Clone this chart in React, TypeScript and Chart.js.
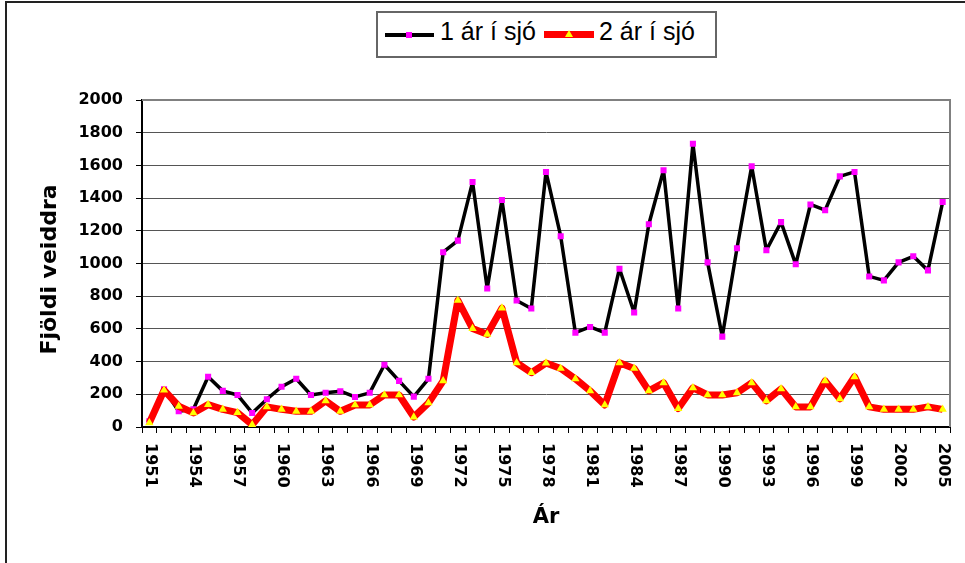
import React, { useEffect, useRef } from 'react';
import { Chart, registerables } from 'chart.js';

Chart.register(...registerables);

const years = [
  '1951', '1952', '1953', '1954', '1955', '1956', '1957', '1958', '1959', '1960',
  '1961', '1962', '1963', '1964', '1965', '1966', '1967', '1968', '1969', '1970',
  '1971', '1972', '1973', '1974', '1975', '1976', '1977', '1978', '1979', '1980',
  '1981', '1982', '1983', '1984', '1985', '1986', '1987', '1988', '1989', '1990',
  '1991', '1992', '1993', '1994', '1995', '1996', '1997', '1998', '1999', '2000',
  '2001', '2002', '2003', '2004', '2005',
];

const oneSeaWinter = [
  35, 231, 96, 108, 307, 221, 196, 86, 170, 246,
  295, 196, 209, 219, 184, 209, 381, 282, 186, 295,
  1069, 1140, 1498, 847, 1388, 774, 725, 1560, 1167, 577,
  612, 577, 968, 700, 1240, 1570, 725, 1732, 1007, 553,
  1093, 1595, 1081, 1253, 995, 1361, 1326, 1533, 1560, 921,
  897, 1007, 1044, 958, 1376,
];

const twoSeaWinter = [
  25, 225, 127, 86, 137, 108, 88, 14, 123, 108,
  96, 96, 160, 96, 135, 135, 196, 196, 61, 147,
  282, 774, 602, 567, 727, 393, 332, 391, 358, 295,
  221, 135, 393, 358, 221, 270, 113, 240, 196, 196,
  209, 270, 160, 233, 123, 123, 282, 172, 307, 123,
  108, 108, 108, 123, 108,
];

const xTickLabels = [
  '1951', '1954', '1957', '1960', '1963', '1966', '1969', '1972', '1975', '1978',
  '1981', '1984', '1987', '1990', '1993', '1996', '1999', '2002', '2005',
];

const seriesNames = ['1 ár í sjó', '2 ár í sjó'];
const xTitle = 'Ár';
const yTitle = 'Fjöldi veiddra';

const FONT = "'DejaVu Sans', sans-serif";

const plotFramePlugin = {
  id: 'plotFrame',
  beforeDatasetsDraw(chart: any) {
    const { ctx, chartArea } = chart;
    ctx.save();
    ctx.strokeStyle = '#808080';
    ctx.lineWidth = 2;
    ctx.beginPath();
    ctx.moveTo(chartArea.left, chartArea.top);
    ctx.lineTo(chartArea.right, chartArea.top);
    ctx.lineTo(chartArea.right, chartArea.bottom);
    ctx.stroke();
    ctx.restore();
  },
};

const customTextPlugin = {
  id: 'customText',
  afterDraw(chart: any) {
    const { ctx, chartArea } = chart;
    const xScale = chart.scales.x;
    ctx.save();
    ctx.fillStyle = '#000';
    ctx.font = `bold 16px ${FONT}`;
    ctx.textAlign = 'left';
    ctx.textBaseline = 'middle';
    xTickLabels.forEach((lab) => {
      const idx = years.indexOf(lab);
      if (idx < 0) return;
      const x = xScale.getPixelForValue(idx);
      ctx.save();
      ctx.translate(x + 1, chartArea.bottom + 16);
      ctx.rotate(Math.PI / 2);
      ctx.fillText(lab, 0, 0);
      ctx.restore();
    });
    // y axis title
    ctx.save();
    ctx.font = `bold 22px ${FONT}`;
    ctx.textAlign = 'center';
    ctx.textBaseline = 'middle';
    ctx.translate(50, (chartArea.top + chartArea.bottom) / 2 + 6);
    ctx.rotate(-Math.PI / 2);
    ctx.fillText(yTitle, 0, 0);
    ctx.restore();
    ctx.restore();
  },
};

export default function App() {
  const canvasRef = useRef<HTMLCanvasElement | null>(null);

  useEffect(() => {
    if (!canvasRef.current) return;
    const chart = new Chart(canvasRef.current, {
      type: 'line',
      data: {
        labels: years,
        datasets: [
          {
            label: seriesNames[0],
            data: oneSeaWinter,
            borderColor: '#000000',
            borderWidth: 3.5,
            borderJoinStyle: 'round',
            pointStyle: 'rect',
            pointRadius: 4.3,
            pointBackgroundColor: '#FF00FF',
            pointBorderColor: '#FF00FF',
            pointBorderWidth: 0,
            tension: 0,
            order: 1,
          },
          {
            label: seriesNames[1],
            data: twoSeaWinter,
            borderColor: '#FF0000',
            borderWidth: 7,
            borderJoinStyle: 'round',
            pointStyle: 'triangle',
            pointRadius: 4.8,
            pointBackgroundColor: '#FFFF00',
            pointBorderColor: '#FFFF00',
            pointBorderWidth: 0,
            tension: 0,
            order: 0,
          },
        ],
      },
      options: {
        responsive: false,
        animation: false,
        devicePixelRatio: 1,
        layout: { padding: { top: 100, right: 15, bottom: 0, left: 0 } },
        plugins: {
          legend: { display: false },
          tooltip: { enabled: false },
        },
        scales: {
          x: {
            type: 'category',
            offset: true,
            afterFit: (s: any) => {
              s.height = 136;
            },
            grid: {
              offset: true,
              drawOnChartArea: false,
              drawTicks: true,
              tickLength: 6,
              tickColor: '#000',
              tickWidth: 1,
            },
            border: { display: true, color: '#000', width: 2 },
            ticks: { display: false, autoSkip: false },
            title: {
              display: true,
              text: xTitle,
              color: '#000',
              font: { family: FONT, size: 21, weight: 'bold' },
              padding: { top: 0, bottom: 33 },
            },
          },
          y: {
            min: 0,
            max: 2000,
            afterFit: (s: any) => {
              s.width = 142;
            },
            grid: {
              color: '#555',
              lineWidth: 1,
              drawTicks: true,
              tickLength: 6,
              tickColor: '#000',
            },
            border: { display: true, color: '#000', width: 2 },
            ticks: {
              stepSize: 200,
              color: '#000',
              padding: 13,
              font: { family: FONT, size: 16, weight: 'bold' },
              callback: (v: any) => String(v),
            },
            title: { display: false },
          },
        },
      },
      plugins: [plotFramePlugin, customTextPlugin],
    } as any);
    return () => chart.destroy();
  }, []);

  const legendText: React.CSSProperties = {
    position: 'absolute',
    top: 19,
    fontFamily: "'Liberation Sans', Arial, sans-serif",
    fontSize: 25,
    lineHeight: '25px',
    color: '#000',
    whiteSpace: 'nowrap',
  };

  return (
    <div
      style={{
        position: 'fixed',
        left: 0,
        top: 0,
        width: 965,
        height: 563,
        overflow: 'hidden',
        background: '#fff',
      }}
    >
      <div
        style={{
          position: 'absolute',
          left: 5,
          top: 1,
          width: 1200,
          height: 800,
          borderLeft: '2px solid #222',
          borderTop: '2px solid #222',
        }}
      />
      <canvas
        ref={canvasRef}
        width={965}
        height={563}
        style={{ position: 'absolute', left: 0, top: 0, width: 965, height: 563 }}
      />
      <div
        style={{
          position: 'absolute',
          left: 376,
          top: 11,
          width: 341,
          height: 47,
          boxSizing: 'border-box',
          border: '2px solid #666',
          background: '#fff',
        }}
      />
      <div style={{ position: 'absolute', left: 385, top: 33, width: 49, height: 4, background: '#000' }} />
      <div style={{ position: 'absolute', left: 406, top: 32, width: 6, height: 6, background: '#FF00FF' }} />
      <div style={{ ...legendText, left: 440 }}>{seriesNames[0]}</div>
      <div style={{ position: 'absolute', left: 544, top: 31, width: 50, height: 7, background: '#FF0000' }} />
      <div
        style={{
          position: 'absolute',
          left: 565,
          top: 30,
          width: 0,
          height: 0,
          borderLeft: '4px solid transparent',
          borderRight: '4px solid transparent',
          borderBottom: '7px solid #FFFF00',
        }}
      />
      <div style={{ ...legendText, left: 599 }}>{seriesNames[1]}</div>
    </div>
  );
}
